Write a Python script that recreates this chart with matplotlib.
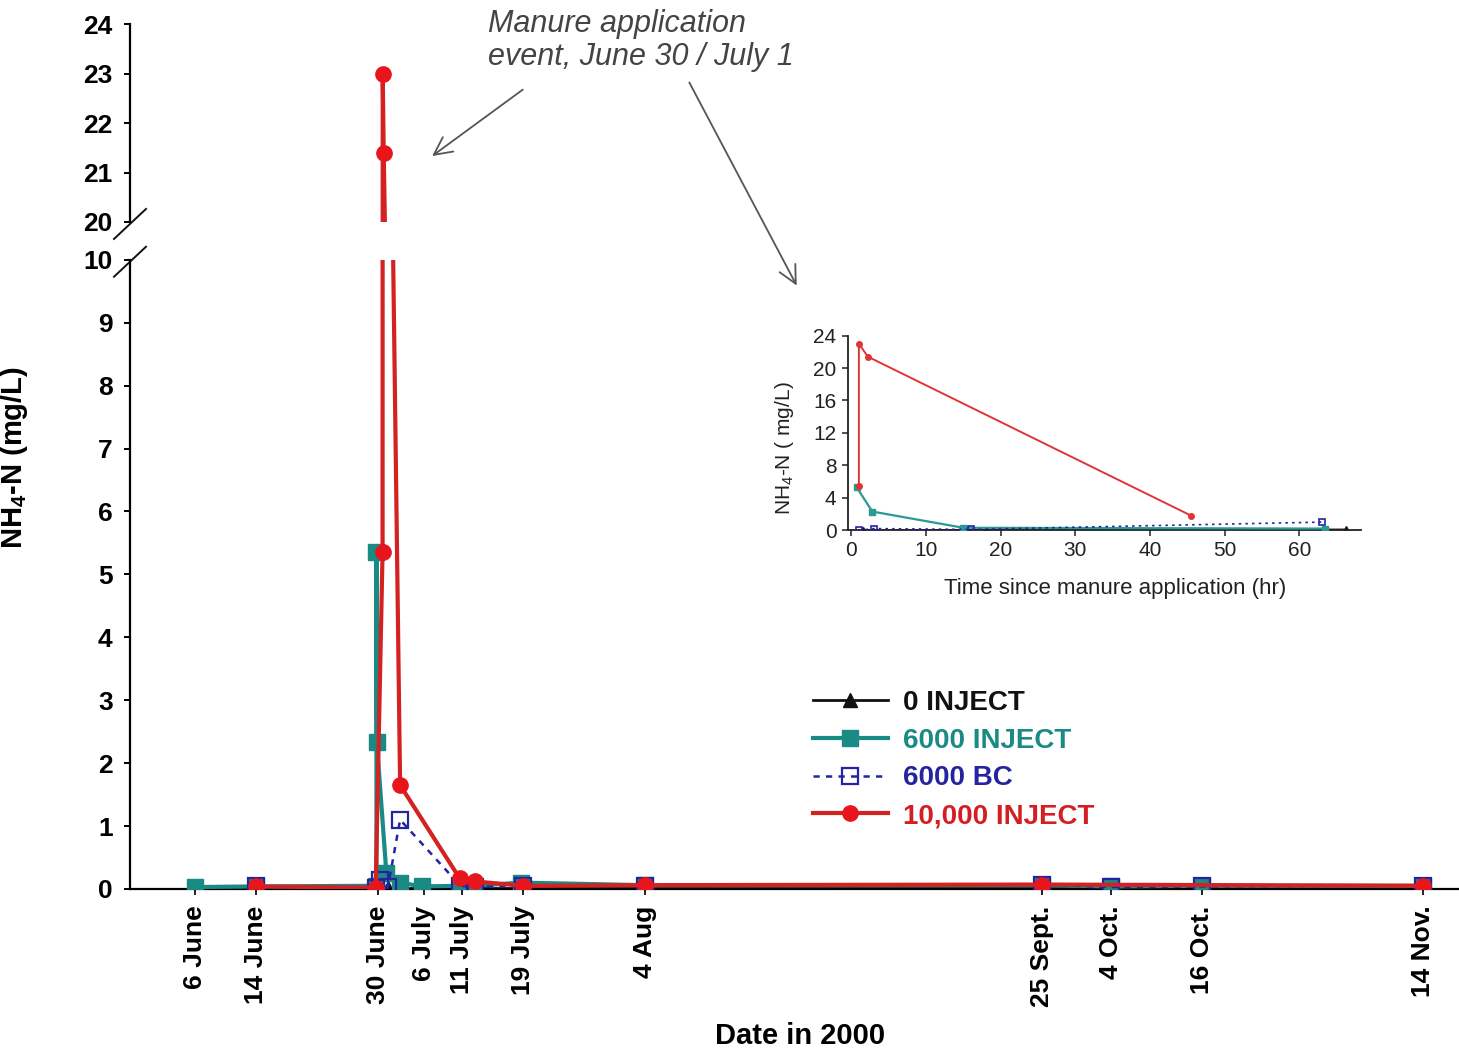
import matplotlib
matplotlib.use("Agg")
import matplotlib.pyplot as plt
import numpy as np

plt.rcParams["font.family"] = ["Liberation Sans", "DejaVu Sans"]
plt.rcParams["mathtext.fontset"] = "custom"
plt.rcParams["mathtext.rm"] = "Liberation Sans"
plt.rcParams["mathtext.it"] = "Liberation Sans:italic"
plt.rcParams["mathtext.bf"] = "Liberation Sans:bold"

# x values are days counted from 1 June 2000 (1 June = 0)
tick_days = [5, 13, 29, 35, 40, 48, 64, 116, 125, 137, 166]
tick_labels = ["6 June", "14 June", "30 June", "6 July", "11 July", "19 July",
               "4 Aug", "25 Sept.", "4 Oct.", "16 Oct.", "14 Nov."]

inject0_day = [5, 13, 28.8, 30.3, 31.9, 34.8, 39.8, 41.7, 48, 64, 116, 125, 137, 166]
inject0_val = [0.02, 0.02, 0.02, 0.02, 0.02, 0.02, 0.02, 0.02, 0.02, 0.02, 0.02, 0.02, 0.02, 0.02]

inject6000_day = [5, 13, 28.8, 28.8, 28.85, 30.1, 31.9, 34.8, 39.8, 41.5, 47.7, 64, 116, 125, 137, 166]
inject6000_val = [0.03, 0.04, 0.05, 5.35, 2.33, 0.25, 0.10, 0.04, 0.05, 0.05, 0.10, 0.06, 0.06, 0.04, 0.05, 0.05]

bc6000_day = [13, 28.8, 29.2, 30.3, 31.9, 39.8, 41.7, 48, 64, 116, 125, 137, 166]
bc6000_val = [0.04, 0.02, 0.15, 0.03, 1.10, 0.05, 0.03, 0.05, 0.05, 0.07, 0.03, 0.04, 0.05]

inject10000_day = [13, 28.7, 29.6, 29.62, 29.75, 31.9, 39.7, 41.7, 48, 64, 116, 166]
inject10000_val = [0.04, 0.02, 5.36, 23.0, 21.4, 1.65, 0.17, 0.12, 0.05, 0.06, 0.07, 0.05]

# inset: hours since manure application
in_0_hr = [1.5, 18.0, 66.3]
in_0_val = [0.0, 0.05, 0.10]
in_6000_hr = [0.7, 2.8, 15.0, 63.5]
in_6000_val = [5.3, 2.3, 0.3, 0.2]
in_bc_hr = [1.0, 3.0, 16.0, 63.0]
in_bc_val = [0.0, 0.2, 0.1, 1.0]
in_10000_hr = [1.0, 1.0, 2.2, 45.5]
in_10000_val = [5.4, 23.0, 21.4, 1.8]

BLACK = "#111111"
TEAL = "#1a8a85"
BLUE = "#2424a0"
RED = "#e8161c"
RED_LINE = "#d42222"

fig = plt.figure(figsize=(14.59, 10.52), dpi=100)
ax_lo = fig.add_axes([0.0891, 0.155, 0.910, 0.598])
ax_hi = fig.add_axes([0.0891, 0.789, 0.910, 0.188], sharex=ax_lo)


def draw_series(ax):
    ax.plot(inject0_day, inject0_val, color=BLACK, lw=2.0, marker="^", ms=10,
            label="0 INJECT", zorder=2)
    ax.plot(inject6000_day, inject6000_val, color=TEAL, lw=3.0, marker="s", ms=11,
            label="6000 INJECT", zorder=3)
    ax.plot(bc6000_day, bc6000_val, color=BLUE, lw=1.8, ls=(0, (2.5, 2.5)), marker="s",
            ms=11, mfc="none", mec=BLUE, mew=1.6, label="6000 BC", zorder=4)
    ax.plot(inject10000_day, inject10000_val, color=RED_LINE, lw=3.0, marker="o", ms=11,
            mfc=RED, mec=RED, label="10,000 INJECT", zorder=5)


draw_series(ax_lo)
draw_series(ax_hi)

ax_lo.set_xlim(-3.5, 170.5)
ax_lo.set_ylim(0, 10)
ax_hi.set_ylim(20, 24)

for ax in (ax_lo, ax_hi):
    for side in ("top", "right"):
        ax.spines[side].set_visible(False)
    ax.spines["left"].set_linewidth(1.6)
    ax.tick_params(axis="y", direction="out", length=4.5, width=1.4, pad=8)

ax_hi.spines["bottom"].set_visible(False)
ax_hi.tick_params(axis="x", bottom=False, labelbottom=False)
ax_hi.set_yticks([20, 21, 22, 23, 24])
ax_hi.set_yticklabels(["20", "21", "22", "23", "24"], fontweight="bold", fontsize=19)
ax_lo.set_yticks(range(0, 11))
ax_lo.set_yticklabels([str(v) for v in range(0, 11)], fontweight="bold", fontsize=19)

ax_lo.spines["bottom"].set_linewidth(1.6)
ax_lo.set_xticks(tick_days)
ax_lo.set_xticklabels(tick_labels, rotation=90, fontweight="bold", fontsize=19,
                      va="top", ha="center")
ax_lo.tick_params(axis="x", direction="out", length=4, width=1.2, pad=8)

ax_lo.set_xlabel("Date in 2000", fontsize=21, fontweight="bold")
ax_lo.xaxis.set_label_coords(0.505, -0.212)
ax_lo.set_ylabel(r"NH$_\mathbf{4}$-N (mg/L)", fontsize=21, fontweight="bold")
ax_lo.yaxis.set_label_coords(-0.075, 0.685)


# slanted marks where the y axis is broken
def break_mark(ax, y):
    dx = 16 / ax.bbox.width
    dy = 15 / ax.bbox.height
    ax.plot([-dx, dx], [y - dy, y + dy], transform=ax.transAxes, color=BLACK,
            lw=1.4, clip_on=False)


break_mark(ax_hi, -0.01)
break_mark(ax_lo, 0.997)

leg = ax_lo.legend(loc="upper left", bbox_to_anchor=(0.557, 0.344),
                   bbox_transform=fig.transFigure, frameon=False,
                   prop={"weight": "bold", "size": 20}, handlelength=2.7,
                   handletextpad=0.55, labelspacing=0.42, borderpad=0,
                   borderaxespad=0)
for text, col in zip(leg.get_texts(), [BLACK, TEAL, BLUE, "#d41e22"]):
    text.set_color(col)

# note and arrows for the manure application event
fig.text(488 / 1459, 1 - 9 / 1052, "Manure application\nevent, June 30 / July 1",
         fontsize=22, style="italic", color="#444444", va="top", ha="left",
         linespacing=1.12)
ax_hi.annotate("", xy=(35.8, 21.3), xycoords="data",
               xytext=(525 / 1459, 1 - 88 / 1052), textcoords="figure fraction",
               arrowprops=dict(arrowstyle="->", color="#555555", lw=1.3,
                               mutation_scale=32))
ax_hi.annotate("", xy=(798 / 1459, 1 - 288 / 1052), xycoords="figure fraction",
               xytext=(688 / 1459, 1 - 80 / 1052), textcoords="figure fraction",
               arrowprops=dict(arrowstyle="->", color="#555555", lw=1.3,
                               mutation_scale=32))

# inset: first hours after application
ax_in = fig.add_axes([0.581, 0.496, 0.352, 0.185])
ax_in.plot(in_0_hr, in_0_val, color=BLACK, lw=1.2, marker="^", ms=5, zorder=2)
ax_in.plot(in_6000_hr, in_6000_val, color="#2a9a94", lw=1.6, marker="s", ms=4,
           zorder=3)
ax_in.plot(in_bc_hr, in_bc_val, color=BLUE, lw=1.2, ls=(0, (1.5, 2.5)), marker="s",
           ms=4, mfc="none", mec=BLUE, mew=1.2, zorder=4)
ax_in.plot(in_10000_hr, in_10000_val, color="#e03535", lw=1.4, marker="o", ms=4,
           zorder=5)
ax_in.set_xlim(-0.5, 68.3)
ax_in.set_ylim(0, 24)
ax_in.set_xticks([0, 10, 20, 30, 40, 50, 60])
ax_in.set_yticks([0, 4, 8, 12, 16, 20, 24])
for side in ("top", "right"):
    ax_in.spines[side].set_visible(False)
for side in ("left", "bottom"):
    ax_in.spines[side].set_linewidth(1.3)
    ax_in.spines[side].set_color("#222222")
ax_in.tick_params(direction="out", length=4, width=1.1, labelsize=15, pad=4,
                  colors="#222222")
ax_in.set_xlabel("Time since manure application (hr)", fontsize=16, color="#222222")
ax_in.xaxis.set_label_coords(0.52, -0.245)
ax_in.set_ylabel(r"NH$_4$-N ( mg/L)", fontsize=15, color="#222222")
ax_in.yaxis.set_label_coords(-0.10, 0.42)

fig.savefig("out.png", dpi=100)
